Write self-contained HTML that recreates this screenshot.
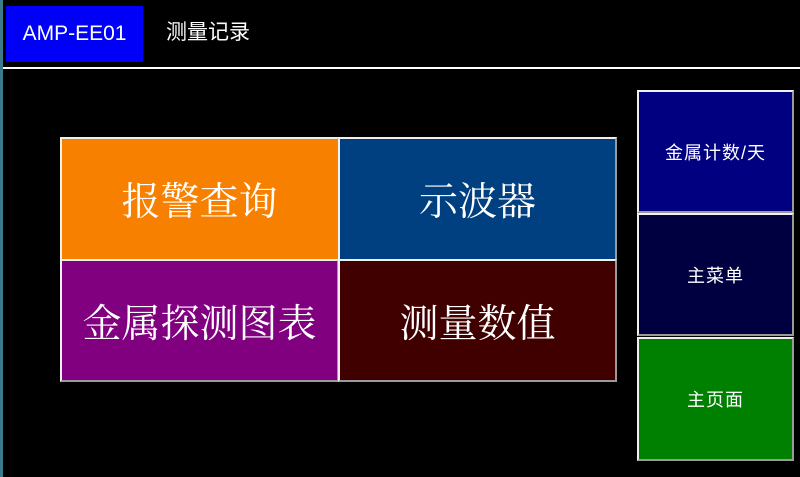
<!DOCTYPE html>
<html><head><meta charset="utf-8"><style>
body{margin:0;width:800px;height:477px;background:#000;position:relative;overflow:hidden;font-family:"Liberation Sans","Noto Sans CJK SC",sans-serif;color:#fff}
.a{position:absolute;box-sizing:border-box}
.b{position:absolute;box-sizing:border-box;border:2px solid;border-color:#f0f0f0 #9a9a9a #9a9a9a #f0f0f0;display:flex;align-items:center;justify-content:center;color:#fff}
.big{font-size:39px;font-family:"Liberation Serif","Noto Serif CJK SC",serif}
.sm{font-size:18px;letter-spacing:1px}
</style></head><body>
<div class="a" style="left:0;top:0;width:3px;height:477px;background:#3a7a8a"></div>
<div class="a" style="left:6px;top:6px;width:137px;height:56px;background:#0000f8;display:flex;align-items:center;justify-content:center;font-size:21px">AMP-EE01</div>
<div class="a" style="left:166px;top:19px;font-size:21px;line-height:28px">测量记录</div>
<div class="a" style="left:3px;top:67px;width:797px;height:2px;background:#fff"></div>
<div class="b big" style="left:60px;top:137px;width:279px;height:124px;background:#f88000">报警查询</div>
<div class="b big" style="left:338px;top:137px;width:279px;height:124px;background:#004080">示波器</div>
<div class="b big" style="left:60px;top:259px;width:279px;height:123px;background:#800080">金属探测图表</div>
<div class="b big" style="left:338px;top:259px;width:279px;height:123px;background:#400000">测量数值</div>
<div class="b sm" style="left:637px;top:90px;width:157px;height:123px;background:#000080">金属计数/天</div>
<div class="b sm" style="left:637px;top:213px;width:157px;height:123px;background:#000040">主菜单</div>
<div class="b sm" style="left:637px;top:337px;width:157px;height:124px;background:#008000">主页面</div>
</body></html>
